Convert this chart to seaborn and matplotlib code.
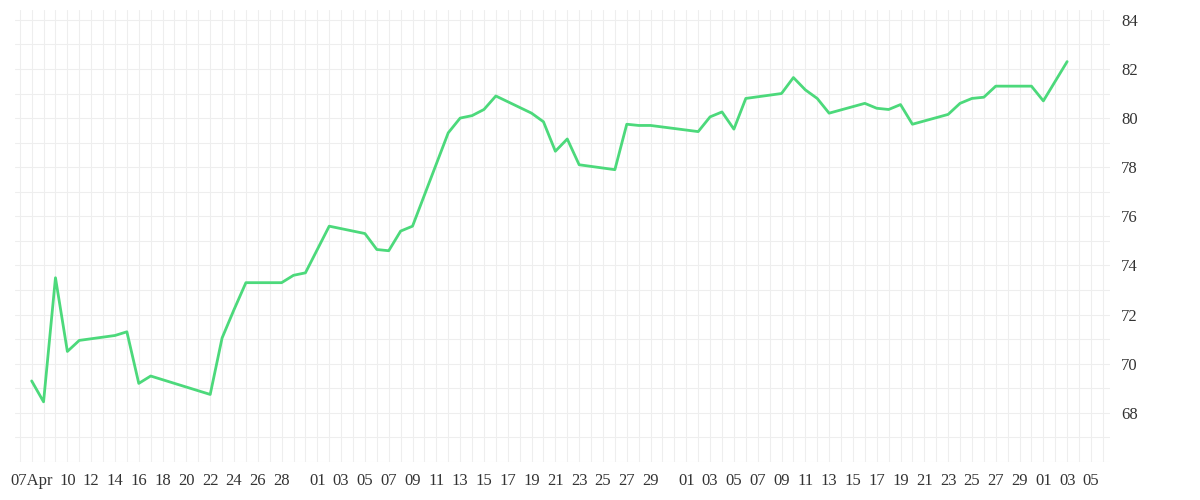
import matplotlib
matplotlib.use("Agg")
import matplotlib.pyplot as plt
import matplotlib.dates as mdates
from matplotlib.ticker import MultipleLocator
import seaborn as sns
import pandas as pd
import numpy as np

dates = ["04-07","04-08","04-09","04-10","04-11","04-14","04-15","04-16","04-17","04-22",
         "04-23","04-24","04-25","04-28","04-29","04-30","05-02","05-05","05-06","05-07",
         "05-08","05-09","05-12","05-13","05-14","05-15","05-16","05-19","05-20","05-21",
         "05-22","05-23","05-26","05-27","05-28","05-29","06-02","06-03","06-04","06-05",
         "06-06","06-09","06-10","06-11","06-12","06-13","06-16","06-17","06-18","06-19",
         "06-20","06-23","06-24","06-25","06-26","06-27","06-30","07-01","07-03"]
values = [69.3,68.45,73.5,70.5,70.95,71.15,71.3,69.2,69.5,68.75,
          71.05,72.2,73.3,73.3,73.6,73.7,75.6,75.3,74.65,74.6,
          75.4,75.6,79.4,80.0,80.1,80.35,80.9,80.2,79.85,78.65,
          79.15,78.1,77.9,79.75,79.7,79.7,79.45,80.05,80.25,79.55,
          80.8,81.0,81.65,81.15,80.8,80.2,80.6,80.4,80.35,80.55,
          79.75,80.15,80.6,80.8,80.85,81.3,81.3,80.7,82.3]
tick_dates = (["04-07"] + [f"04-{d:02d}" for d in range(10, 29, 2)] + ["04-30"] +
              [f"05-{d:02d}" for d in range(1, 30, 2)] + ["05-31"] +
              [f"06-{d:02d}" for d in range(1, 30, 2)] + ["07-01","07-03","07-05"])
tick_labels = ["07Apr"] + [f"{d:02d}" for d in range(10, 29, 2)] + [""] + \
              [f"{d:02d}" for d in range(1, 30, 2)] + [""] + \
              [f"{d:02d}" for d in range(1, 30, 2)] + ["01","03","05"]

df = pd.DataFrame({"date": pd.to_datetime(["2025-" + d for d in dates]), "value": values})

sns.set_theme(style="white")
plt.rcParams['font.family'] = ['Liberation Serif', 'DejaVu Serif']
fig = plt.figure(figsize=(12, 5), dpi=100)
ax = fig.add_axes([15/1200, 38/500, 1095/1200, 452/500])
sns.lineplot(data=df, x="date", y="value", ax=ax, color="#4cd97b", linewidth=2)

start = pd.Timestamp("2025-04-07")
ax.set_xlim(start - pd.Timedelta(days=1.4), start + pd.Timedelta(days=90.6))
ax.set_ylim(66, 84.4)
ax.set_xticks(pd.to_datetime(["2025-" + d for d in tick_dates]))
ax.set_xticklabels(tick_labels, fontsize=12, color="#333333")
ax.xaxis.set_minor_locator(mdates.DayLocator())
ax.yaxis.set_major_locator(MultipleLocator(2))
ax.yaxis.set_minor_locator(MultipleLocator(1))
ax.set_yticks(np.arange(68, 85, 2))
ax.yaxis.tick_right()
ax.tick_params(axis="y", labelsize=12, colors="#333333", length=0, pad=8)
ax.tick_params(axis="x", length=0, pad=8)
ax.tick_params(which="minor", length=0)
ax.grid(True, which="both", color="#eeeeee", linewidth=0.8)
for s in ax.spines.values():
    s.set_visible(False)
ax.set_xlabel("")
ax.set_ylabel("")
fig.savefig("out.png", dpi=100)
